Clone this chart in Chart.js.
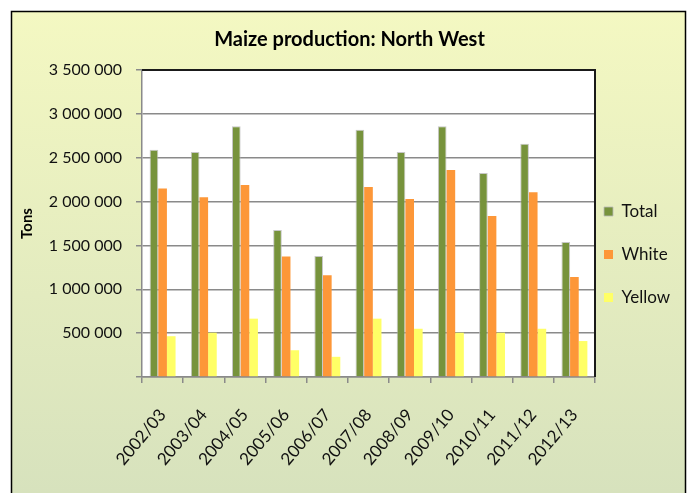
<!DOCTYPE html>
<html>
<head>
<meta charset="utf-8">
<script src="https://cdn.jsdelivr.net/npm/chart.js@4/dist/chart.umd.min.js"></script>
<style>
  html, body { margin: 0; padding: 0; background: #fff; }
  #wrap { width: 687px; height: 493px; }
</style>
</head>
<body>
<div id="wrap"><canvas id="maizeChart"></canvas></div>
<script>
// seasons on the x axis
var seasons = ['2002/03', '2003/04', '2004/05', '2005/06', '2006/07', '2007/08',
               '2008/09', '2009/10', '2010/11', '2011/12', '2012/13'];

// tons
var totalTons  = [2590000, 2565000, 2860000, 1675000, 1380000, 2820000, 2565000, 2860000, 2325000, 2660000, 1540000];
var whiteTons  = [2150000, 2050000, 2190000, 1375000, 1160000, 2165000, 2030000, 2360000, 1835000, 2105000, 1140000];
var yellowTons = [465000, 505000, 665000, 305000, 230000, 665000, 550000, 505000, 505000, 550000, 410000];

var yMax = 3500000;
var yStep = 500000;

var baseFont = 'Lato, "Liberation Sans", sans-serif';

// background panel + plot area
var framePlugin = {
    id: 'frame',
    beforeDraw: function (chart) {
        var ctx = chart.ctx;
        var a = chart.chartArea;
        ctx.save();
        ctx.fillStyle = '#ffffff';
        ctx.fillRect(0, 0, chart.width, chart.height);
        var g = ctx.createLinearGradient(0, 11, 0, chart.height);
        g.addColorStop(0, '#f4f8c2');
        g.addColorStop(1, '#d7e2bd');
        ctx.fillStyle = g;
        ctx.fillRect(11, 11, 675, chart.height - 11);
        ctx.strokeStyle = '#000000';
        ctx.lineWidth = 1.5;
        ctx.beginPath();
        ctx.moveTo(11.5, chart.height);
        ctx.lineTo(11.5, 11.5);
        ctx.lineTo(685.5, 11.5);
        ctx.lineTo(685.5, chart.height);
        ctx.stroke();
        ctx.fillStyle = '#ffffff';
        ctx.fillRect(a.left, a.top, a.right - a.left, a.bottom - a.top);
        ctx.restore();
    },
    afterLayout: function (chart) {
        // nudge legend closer to the plot and down a little
        var lg = chart.legend;
        lg.left -= 17; lg.right -= 17;
        lg.top += 8; lg.bottom += 8;
    },
    afterDatasetsDraw: function (chart) {
        var ctx = chart.ctx;
        var a = chart.chartArea;
        ctx.save();
        ctx.strokeStyle = '#1a1a1a';
        ctx.lineWidth = 2;
        ctx.beginPath();
        ctx.moveTo(a.left, a.top);
        ctx.lineTo(a.right, a.top);
        ctx.lineTo(a.right, a.bottom);
        ctx.stroke();
        ctx.restore();
    }
};

function fmtTons(v) {
    if (v === 0) return '';
    return String(v).replace(/\B(?=(\d{3})+(?!\d))/g, ' ');
}

var ctx = document.getElementById('maizeChart').getContext('2d');
new Chart(ctx, {
    type: 'bar',
    data: {
        labels: seasons,
        datasets: [
            {
                label: 'Total',
                data: totalTons,
                backgroundColor: '#77933c',
                borderColor: 'rgba(185, 185, 185, 0.8)',
                borderWidth: 1
            },
            {
                label: 'White',
                data: whiteTons,
                backgroundColor: '#fd9738',
                borderWidth: 0
            },
            {
                label: 'Yellow',
                data: yellowTons,
                backgroundColor: '#ffff66',
                borderWidth: 0
            }
        ]
    },
    options: {
        responsive: true,
        maintainAspectRatio: false,
        animation: false,
        layout: { padding: { left: 12, right: 0, top: 0, bottom: 0 } },
        datasets: {
            bar: { categoryPercentage: 0.63, barPercentage: 1.0 }
        },
        plugins: {
            title: {
                display: true,
                text: 'Maize production: North West',
                color: '#000',
                font: { family: baseFont, size: 20, weight: 'bold' },
                padding: { top: 28, bottom: 18 }
            },
            legend: {
                position: 'right',
                maxWidth: 92,
                labels: {
                    boxWidth: 9,
                    boxHeight: 9,
                    padding: 26,
                    color: '#111',
                    font: { family: baseFont, size: 17 }
                }
            },
            tooltip: { enabled: false }
        },
        scales: {
            x: {
                grid: {
                    offset: true,
                    drawOnChartArea: false,
                    tickLength: 6,
                    color: '#8a8a8a',
                    lineWidth: 1.5
                },
                border: { color: '#8a8a8a', width: 1.5 },
                ticks: {
                    color: '#111',
                    minRotation: 50,
                    maxRotation: 50,
                    padding: 22,
                    font: { family: baseFont, size: 17 }
                },
                afterFit: function (scale) { scale.height = 116; }
            },
            y: {
                min: 0,
                max: yMax,
                ticks: {
                    stepSize: yStep,
                    color: '#111',
                    padding: 14,
                    font: { family: baseFont, size: 16 },
                    callback: function (v) { return fmtTons(v); }
                },
                grid: {
                    color: '#8a8a8a',
                    lineWidth: 1.5,
                    tickLength: 6
                },
                border: { color: '#8a8a8a', width: 1.5 },
                title: {
                    display: true,
                    text: 'Tons',
                    color: '#000',
                    font: { family: baseFont, size: 15, weight: 'bold' },
                    padding: { top: 6, bottom: 0 }
                },
                afterFit: function (scale) { scale.width = 130; }
            }
        }
    },
    plugins: [framePlugin]
});
</script>
</body>
</html>
